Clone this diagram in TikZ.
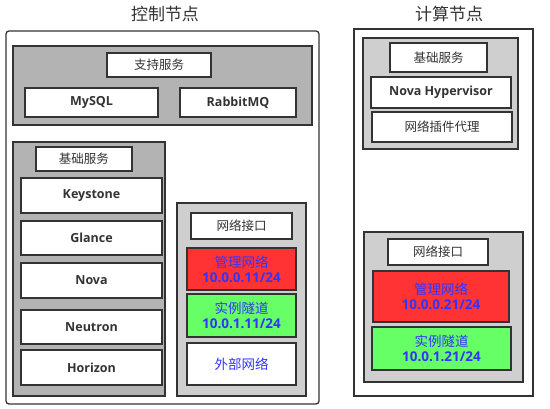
\documentclass[tikz,border=0pt]{standalone}
\usepackage{fontspec}
\setmainfont{Open Sans}
\newfontfamily\cjk{Noto Sans CJK SC}
\usetikzlibrary{calc}
\definecolor{boxline}{HTML}{333333}
\definecolor{panelgray}{HTML}{B3B3B3}
\definecolor{lightgray}{HTML}{CFCFCF}
\definecolor{netred}{HTML}{FF3333}
\definecolor{netgreen}{HTML}{66FF66}
\definecolor{netblue}{HTML}{3333FF}
\tikzset{
  cellline/.style={draw=boxline, line width=1.6pt},
  celltext/.style={text=boxline, font=\fontsize{12.5}{14}\selectfont\bfseries, align=center},
  nettext/.style={text=netblue, font=\fontsize{13.5}{15}\selectfont\bfseries, align=center},
  titletext/.style={text=boxline, font=\cjk\fontsize{17}{19}\selectfont}
}
% panel: x1 y1 x2 y2 fill
\newcommand{\panel}[5]{\filldraw[cellline, fill=#5] ( #1 , #2 ) rectangle ( #3 , #4 );}
% cell: name x1 y1 x2 y2 fill text
\newcommand{\cell}[7]{\filldraw[cellline, fill=#6] ( #2 , #3 ) rectangle ( #4 , #5 );
  \node[celltext] (#1) at ($( #2 , #3 )!0.5!( #4 , #5 )$) {#7};}
\newcommand{\netcell}[7]{\filldraw[cellline, fill=#6] ( #2 , #3 ) rectangle ( #4 , #5 );
  \node[nettext] (#1) at ($( #2 , #3 )!0.5!( #4 , #5 )$) {#7};}

\begin{document}
\begin{tikzpicture}[x=1pt, y=-1pt]
        \useasboundingbox (0,0) rectangle (550,408);
        % titles
        \node[titletext] (ctrltitle) at (165,14) {控制节点};
        \node[titletext] (comptitle) at (449,14) {计算节点};
        % control node
        \draw[draw=boxline, line width=1.3pt, rounded corners=3pt, fill=white] (6,31) rectangle (319,404);
        % support services
        \panel{13}{46}{312}{125}{panelgray}
        \cell{support}{107}{53}{211}{77}{white}{\cjk\mdseries 支持服务}
        \cell{mysql}{25}{88}{158}{117}{white}{MySQL}
        \cell{rabbit}{180}{88}{296}{117}{white}{RabbitMQ}
        % base services
        \panel{13}{142}{165}{396}{panelgray}
        \cell{ctrlbase}{36}{147}{132}{171}{white}{\cjk\mdseries 基础服务}
        \cell{keystone}{21}{178}{162}{213}{white}{Keystone}
        \cell{glance}{21}{221}{162}{255}{white}{Glance}
        \cell{nova}{21}{263}{162}{298}{white}{Nova}
        \cell{neutron}{21}{310}{162}{344}{white}{Neutron}
        \cell{horizon}{21}{350}{162}{385}{white}{Horizon}
        % network interfaces
        \panel{177}{203}{306}{396}{lightgray}
        \cell{ctrlnet}{191}{213}{292}{239}{white}{\cjk\mdseries 网络接口}
        \netcell{ctrlmgmt}{187}{248}{296}{290}{netred}{{\cjk\mdseries 管理网络}\\10.0.0.11/24}
        \netcell{ctrltunnel}{187}{294}{296}{337}{netgreen}{{\cjk\mdseries 实例隧道}\\10.0.1.11/24}
        \netcell{ctrlext}{187}{343}{296}{385}{white}{\cjk\mdseries 外部网络}
        % compute node
        \draw[draw=boxline, line width=1.5pt, fill=white] (354,29) rectangle (533,396);
        % base services
        \panel{363}{38}{518}{149}{lightgray}
        \cell{compbase}{390}{43}{487}{72}{white}{\cjk\mdseries 基础服务}
        \cell{hypervisor}{371}{77}{511}{108}{white}{Nova Hypervisor}
        \cell{agent}{372}{112}{512}{142}{white}{\cjk\mdseries 网络插件代理}
        % network interfaces
        \panel{364}{232}{523}{382}{lightgray}
        \cell{compnet}{388}{239}{488}{265}{white}{\cjk\mdseries 网络接口}
        \netcell{compmgmt}{373}{271}{509}{322}{netred}{{\cjk\mdseries 管理网络}\\10.0.0.21/24}
        \netcell{comptunnel}{372}{327}{511}{370}{netgreen}{{\cjk\mdseries 实例隧道}\\10.0.1.21/24}
\end{tikzpicture}
\end{document}
